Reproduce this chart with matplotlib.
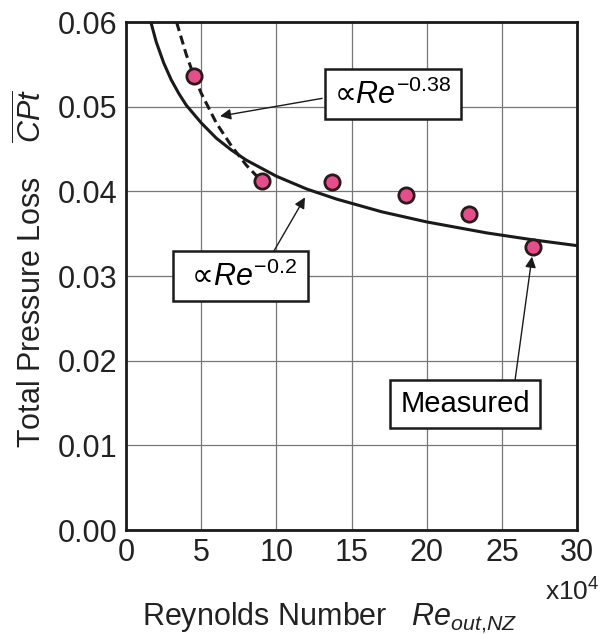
import matplotlib.pyplot as plt

plt.rcParams['font.family'] = ['Liberation Sans', 'DejaVu Sans']
plt.rcParams['mathtext.fontset'] = 'custom'
plt.rcParams['mathtext.rm'] = 'Liberation Sans'
plt.rcParams['mathtext.it'] = 'Liberation Sans:italic'

# Measured points (Re in units of 1e4)
re_meas = [4.5, 9.05, 13.7, 18.6, 22.8, 27.05]
cpt_meas = [0.0537, 0.0412, 0.0411, 0.0396, 0.0373, 0.0334]

# Re^-0.2 curve
re_fit02 = [1.65, 2, 2.5, 3, 3.5, 4, 5, 6, 7, 8, 10, 12, 14, 17, 20, 24, 27, 30]
cpt_fit02 = [0.0600, 0.0577, 0.0552, 0.0532, 0.0516, 0.0502, 0.0481, 0.0463,
             0.0449, 0.0437, 0.0418, 0.0403, 0.0391, 0.0376, 0.0364, 0.0351,
             0.0343, 0.0336]

# Re^-0.38 curve (dashed)
re_fit038 = [3.36, 4, 4.5, 5, 6, 7, 8, 8.7]
cpt_fit038 = [0.0600, 0.0562, 0.0537, 0.0516, 0.0481, 0.0454, 0.0431, 0.0418]

xticks = [0, 5, 10, 15, 20, 25, 30]
yticks = [0.00, 0.01, 0.02, 0.03, 0.04, 0.05, 0.06]

fig = plt.figure(figsize=(6.12, 6.34), dpi=100)
ax = fig.add_axes([0.206, 0.164, 0.737, 0.801])

ax.plot(re_fit02, cpt_fit02, '-', color='#1a1a1a', lw=2.2, zorder=3)
ax.plot(re_fit038, cpt_fit038, '--', color='#1a1a1a', lw=2.2, dashes=(3, 1.6), zorder=3)
ax.plot(re_meas, cpt_meas, 'o', ms=11, mfc='#e64d8c', mec='#2a1a1a', mew=2, zorder=4)

ax.set_xlim(0, 30)
ax.set_ylim(0, 0.06)
ax.set_xticks(xticks)
ax.set_yticks(yticks)
ax.set_yticklabels([f'{v:.2f}' for v in yticks])
ax.tick_params(length=0, labelsize=22, pad=6, colors='#222222')
ax.grid(True, color='#777777', lw=0.9)
ax.set_axisbelow(True)
for s in ax.spines.values():
    s.set_linewidth(2)
    s.set_color('#1a1a1a')

ax.set_ylabel(r'Total Pressure Loss    $\overline{CPt}$', fontsize=22, color='#222222')
ax.yaxis.set_label_coords(-0.172, 0.515)
ax.set_xlabel(r'Reynolds Number   $Re_{out{,}NZ}$', fontsize=22, color='#222222')
ax.xaxis.set_label_coords(0.452, -0.14)
ax.text(0.989, -0.122, r'x10$^4$', transform=ax.transAxes, fontsize=19,
        ha='center', va='center', color='#222222')

arrow = dict(arrowstyle='-|>', color='#1a1a1a', lw=1, mutation_scale=16,
             shrinkA=0, shrinkB=0)
sym_font = ['DejaVu Sans', 'Liberation Sans']

ax.annotate('', xy=(6.25, 0.0489), xytext=(13.04, 0.0510), arrowprops=arrow, zorder=5)
ax.text(17.75, 0.0515, '\u221d' + r'$Re^{-0.38}$', fontsize=22, ha='center', va='center',
        family=sym_font, zorder=6,
        bbox=dict(boxstyle='square,pad=0.3', fc='white', ec='#1a1a1a', lw=1.8))

ax.annotate('', xy=(11.9, 0.0393), xytext=(9.78, 0.0328), arrowprops=arrow, zorder=5)
ax.text(7.62, 0.0300, '\u221d' + r'$Re^{-0.2}$', fontsize=22, ha='center', va='center',
        family=sym_font, zorder=6,
        bbox=dict(boxstyle='square,pad=0.3', fc='white', ec='#1a1a1a', lw=1.8))
# the lower box is a little wider than its text
ax.texts[-1].get_bbox_patch().set_boxstyle('square', pad=0.3)
ax.texts[-1].set_text(' \u221d' + r'$Re^{-0.2}$' + ' ')

ax.annotate('', xy=(27.0, 0.0323), xytext=(25.88, 0.0178), arrowprops=arrow, zorder=5)
ax.text(22.55, 0.0149, 'Measured', fontsize=21, ha='center', va='center',
        bbox=dict(boxstyle='square,pad=0.35', fc='white', ec='#1a1a1a', lw=1.8), zorder=6)

fig.savefig('out.png', dpi=100)
